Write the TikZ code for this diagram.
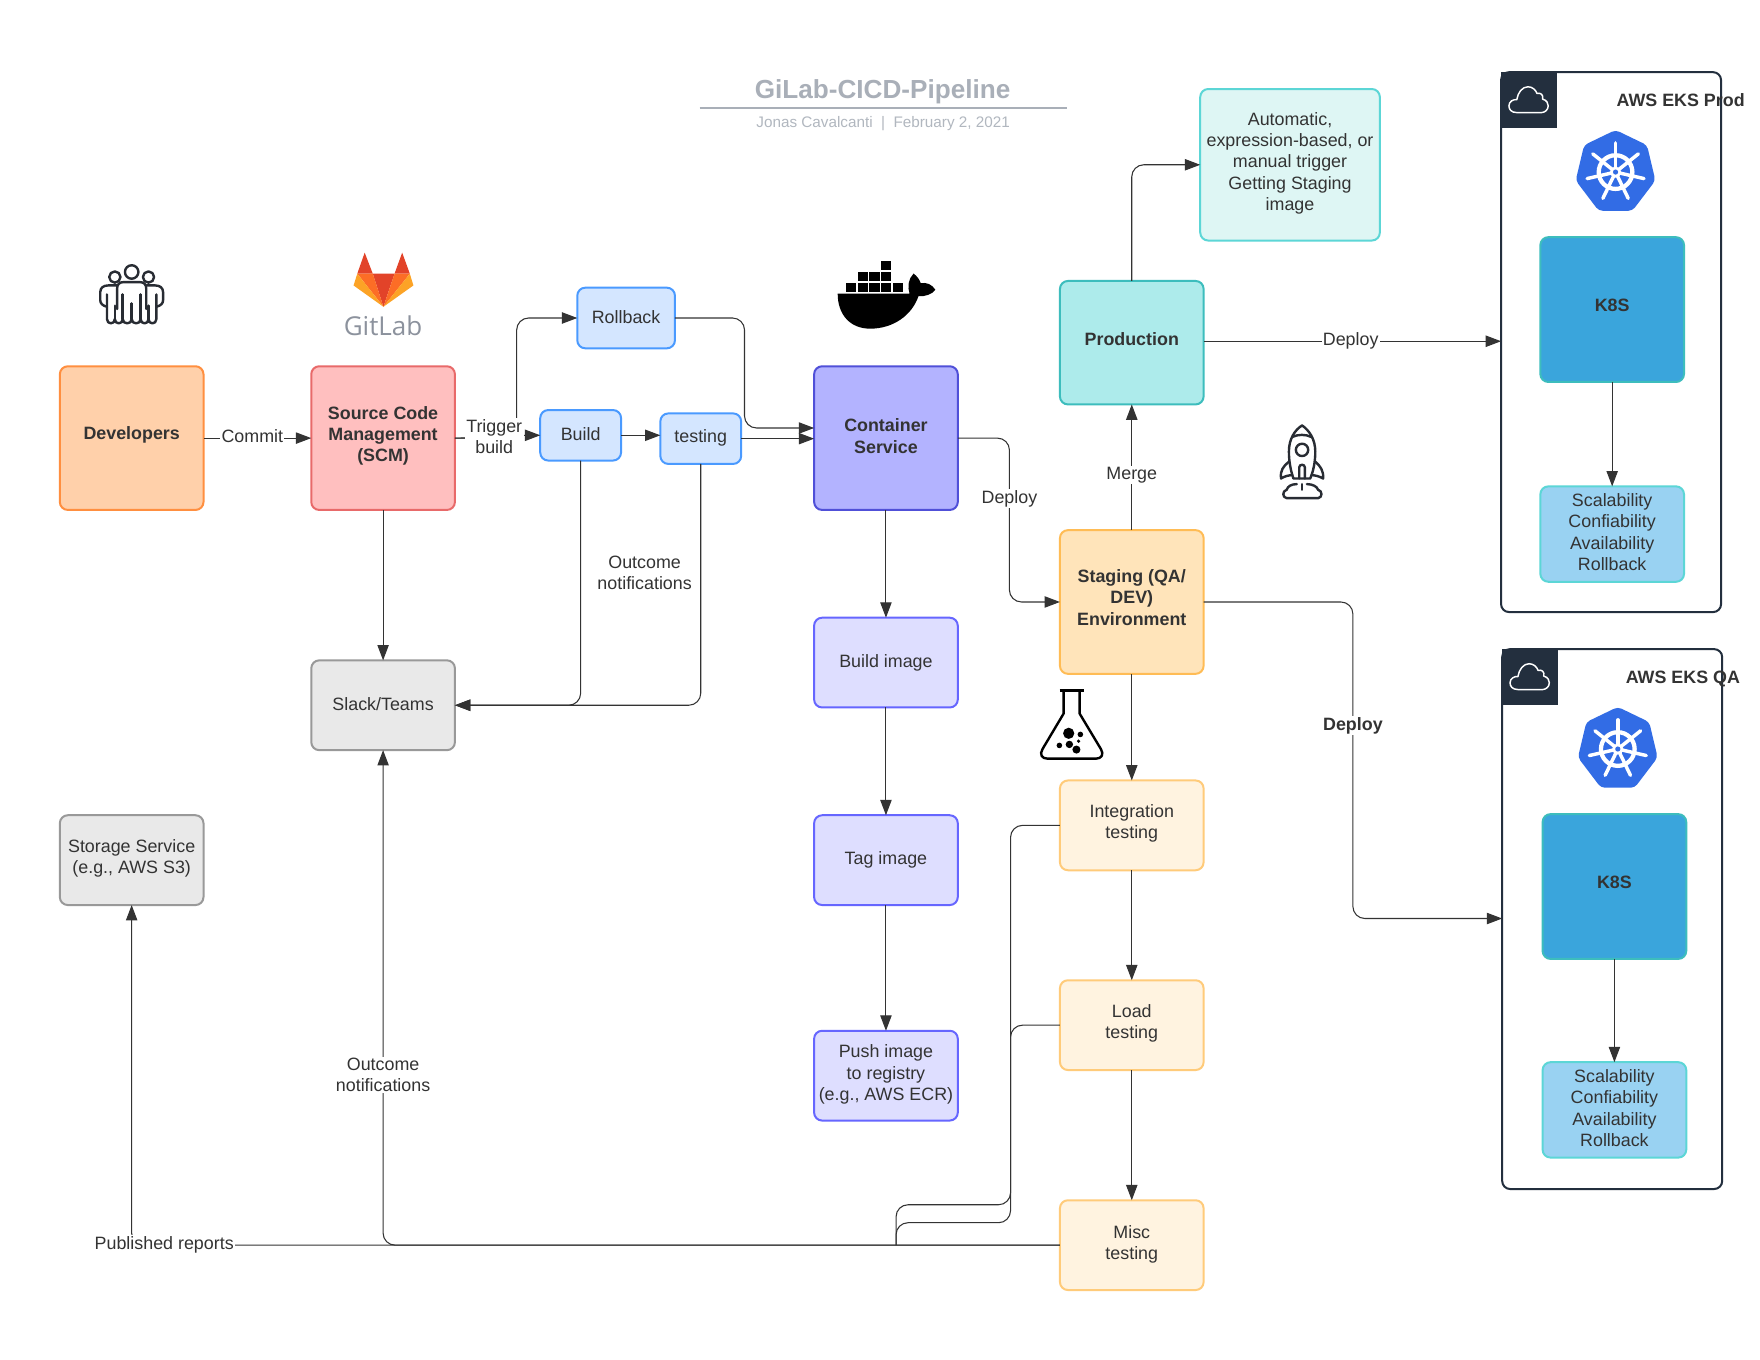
\documentclass[tikz,border=0pt]{standalone}
\usepackage{fontspec}
\setmainfont{Liberation Sans}
\newfontfamily\glfont{Open Sans}
\usetikzlibrary{arrows.meta,calc}
\definecolor{ink}{HTML}{333333}
\definecolor{dark}{HTML}{232F3E}
\definecolor{icon}{HTML}{282C33}
\definecolor{kblue}{HTML}{326CE5}
\definecolor{titlegray}{HTML}{A9AFB8}
\newcommand{\uu}{0.84184pt}
\newcommand{\bx}[8]{%
  \node[#1,minimum width={(#5-#3)*\uu},minimum height={(#6-#4)*\uu}] (#2) at ({(#3+#5)/2},{(#4+#6)/2})
    {\raisebox{#7pt}[\height][\depth]{\begin{tabular}{@{}c@{}}#8\end{tabular}}};}
\tikzset{
  box/.style={draw,rounded corners=6pt,line width=1.5pt,inner sep=0pt,outer sep=0pt,text=ink,font=\fontsize{13.4}{16}\selectfont},
  boldbox/.style={box,font=\fontsize{13.4}{16}\selectfont\bfseries},
  cdev/.style={boldbox,fill={rgb,255:red,255;green,208;blue,170},draw={rgb,255:red,255;green,143;blue,64}},
  cscm/.style={boldbox,fill={rgb,255:red,255;green,191;blue,191},draw={rgb,255:red,232;green,106;blue,106}},
  csmall/.style={box,fill={rgb,255:red,212;green,230;blue,255},draw={rgb,255:red,74;green,154;blue,255}},
  ccont/.style={boldbox,fill={rgb,255:red,179;green,179;blue,255},draw={rgb,255:red,80;green,80;blue,216}},
  cimg/.style={box,fill={rgb,255:red,222;green,222;blue,255},draw={rgb,255:red,102;green,102;blue,255}},
  cgray/.style={box,fill={rgb,255:red,233;green,233;blue,233},draw={rgb,255:red,153;green,153;blue,153}},
  cprod/.style={boldbox,fill={rgb,255:red,173;green,235;blue,235},draw={rgb,255:red,61;green,189;blue,189}},
  cauto/.style={box,fill={rgb,255:red,222;green,246;blue,244},draw={rgb,255:red,92;green,214;blue,214}},
  cstag/.style={boldbox,fill={rgb,255:red,255;green,228;blue,186},draw={rgb,255:red,255;green,188;blue,85}},
  ctest/.style={box,fill={rgb,255:red,255;green,243;blue,224},draw={rgb,255:red,255;green,203;blue,122}},
  ckube/.style={boldbox,fill={rgb,255:red,58;green,165;blue,220},draw={rgb,255:red,61;green,189;blue,189}},
  cscal/.style={box,fill={rgb,255:red,153;green,210;blue,242},draw={rgb,255:red,92;green,214;blue,214}},
  frame/.style={draw=dark,line width=1.5pt,rounded corners=6pt,inner sep=0pt,outer sep=0pt},
  lbl/.style={fill=white,inner sep=1pt,text=ink,align=center,font=\fontsize{13.4}{16}\selectfont},
  lblb/.style={lbl,font=\fontsize{13.4}{16}\selectfont\bfseries},
  conn/.style={draw=ink,line width=0.8pt,rounded corners=9pt,-{Triangle[length=11.5pt,width=8.5pt]}},
  plainconn/.style={draw=ink,line width=0.8pt,rounded corners=9pt},
  ico/.style={draw=icon,line width=1.8pt,line join=round,line cap=round},
  kube/.pic={
    \fill[kblue,rounded corners=3pt] (0,-37.5) -- (28,-24) -- (35.5,7.5) -- (15,34.5) -- (-15,34.5) -- (-35.5,7.5) -- (-28,-24) -- cycle;
    \draw[white,line width=3.2pt] (0,0) circle (15);
    \foreach \a in {90,141.4,192.9,244.3,295.7,347.1,38.6}
      \draw[white,line width=2.6pt,line cap=round] (0,0) -- ({\a}:-26);
    \fill[white] (0,0) circle (5);
    \fill[kblue] (0,0) circle (2.3);
  },
  cloudhead/.pic={
    \fill[dark] (0,0) rectangle (49.5,49.5);
    \draw[white,line width=1.1pt,line join=round] (14,36) .. controls (9,36) and (7,33) .. (7,30) .. controls (7,26) and (11,24) .. (14,24.5) .. controls (15,18) and (19,13) .. (24,13) .. controls (28,13) and (31,16) .. (32,19) .. controls (35,18) and (38,20) .. (37,24) .. controls (41,25) and (42,28) .. (42,30) .. controls (42,33.5) and (39,36) .. (36,36) -- cycle;
  }
}
\begin{document}
\begin{tikzpicture}[x=\uu,y=-\uu]
\useasboundingbox (-0.3,-0.3) rectangle (1567.7,1211.3);
\fill[white] (-0.3,-0.3) rectangle (1567.7,1211.3);

% title
\node[text=titlegray,font=\fontsize{19.6}{22}\selectfont\bfseries] (title) at (786,81) {GiLab-CICD-Pipeline};
\node[text=titlegray!90,font=\fontsize{11.45}{14}\selectfont] (subtitle) at (786.5,110) {Jonas Cavalcanti\ \ |\ \ February 2, 2021};
\coordinate (ruleL) at (623,96);
\coordinate (ruleR) at (950.5,96);
\draw[titlegray,line width=1.5pt] (ruleL) -- (ruleR);

% AWS frames
\bx{frame}{eksprod}{1337}{64}{1533}{545}{0}{}
\bx{frame}{eksqa}{1338}{578}{1534}{1059}{0}{}
\pic at (1337,64) {cloudhead};
\pic at (1338,578) {cloudhead};
\node[text=ink,font=\fontsize{13.4}{16}\selectfont\bfseries] (prodtitle) at (1497,89) {AWS EKS Prod};
\node[text=ink,font=\fontsize{13.4}{16}\selectfont\bfseries] (qatitle) at (1499,604.5) {AWS EKS QA};
\pic at (1439,153) {kube};
\pic at (1441,667) {kube};

% boxes
\bx{cdev}{dev}{53}{326}{181}{454}{2.2}{Developers}
\bx{cscm}{scm}{277}{326}{405}{454}{1.3}{Source Code\\Management\\(SCM)}
\bx{csmall}{rollback}{514}{256}{601}{310}{-0.7}{Rollback}
\bx{csmall}{build}{481}{365}{553}{410}{-0.7}{Build}
\bx{csmall}{testing}{588}{368}{660}{413}{0}{testing}
\bx{ccont}{container}{725}{326}{853}{454}{-0.2}{Container\\Service}
\bx{cimg}{buildimg}{725}{550}{853}{630}{-0.2}{Build image}
\bx{cimg}{tagimg}{725}{726}{853}{806}{-0.2}{Tag image}
\bx{cimg}{pushimg}{725}{918}{853}{998}{0.5}{Push image\\to registry\\(e.g., AWS ECR)}
\bx{cgray}{slack}{277}{588}{405}{668}{-0.7}{Slack/Teams}
\bx{cgray}{storage}{53}{726}{181}{806}{1.3}{Storage Service\\(e.g., AWS S3)}
\bx{cprod}{prod}{944}{250}{1072}{360}{0.8}{Production}
\bx{cauto}{auto}{1069}{79}{1229}{214}{1}{Automatic,\\expression-based, or\\manual trigger\\Getting Staging\\image}
\bx{cstag}{staging}{944}{472}{1072}{600}{1.8}{Staging (QA/\\DEV)\\Environment}
\bx{ctest}{integ}{944}{695}{1072}{775}{1}{Integration\\testing}
\bx{ctest}{load}{944}{873}{1072}{953}{1.3}{Load\\testing}
\bx{ctest}{misc}{944}{1069}{1072}{1149}{0.3}{Misc\\testing}
\bx{ckube}{kubeP}{1372}{211}{1500}{340}{1.8}{K8S}
\bx{cscal}{scalP}{1372}{433}{1500}{518}{-0.2}{Scalability\\Confiability\\Availability\\Rollback}
\bx{ckube}{kubeQ}{1374}{725}{1502}{854}{1.8}{K8S}
\bx{cscal}{scalQ}{1374}{946}{1502}{1031}{-0.2}{Scalability\\Confiability\\Availability\\Rollback}

% helper coordinates
\coordinate (trigMid) at (440,389.6);
\coordinate (trigUp) at (460,330);
\coordinate (rollBend) at (663,330);
\coordinate (contIn) at (725,381);
\coordinate (deployBend) at (899,460);
\coordinate (qaBend) at (1205,818);
\coordinate (prodOut) at (1072,303.7);
\coordinate (busBendI) at (900,1000);
\coordinate (jn) at (798,1109);
\coordinate (jnI) at (798,1073);
\coordinate (jnL) at (798,1089);

% connectors
\draw[conn] (dev.east) -- (scm.west);
\draw[conn] (scm.east) -- (trigMid) -- (trigMid |- build.west) -- (build.west);
\draw[conn] (scm.east) -| (trigUp) |- (rollback.west);
\draw[conn] (build.east |- 0,387.5) -- (testing.west |- 0,387.5);
\draw[conn] (testing.east) -- (testing.east -| container.west);
\draw[conn] (rollback.east) -| (rollBend) |- (contIn);
\draw[conn] (container.south) -- (buildimg.north);
\draw[conn] (buildimg.south) -- (tagimg.north);
\draw[conn] (tagimg.south) -- (pushimg.north);
\draw[conn] (container.east) -| (deployBend) |- (staging.west);
\draw[conn] (scm.south) -- (slack.north);
\draw[conn] (build.south) |- (slack.east);
\draw[conn] (testing.south) |- (slack.east);
\draw[conn] (staging.north) -- (prod.south);
\draw[conn] (prod.north) |- (auto.west);
\draw[conn] (prodOut) -- (prodOut -| eksprod.west);
\draw[conn] (staging.east) -| (qaBend) -- (qaBend -| eksqa.west);
\draw[conn] (kubeP.south) -- (scalP.north);
\draw[conn] (kubeQ.south) -- (scalQ.north);
\draw[conn] (staging.south) -- (integ.north);
\draw[conn] (integ.south) -- (load.north);
\draw[conn] (load.south) -- (misc.north);
\draw[conn] (misc.west) -| (storage.south);
\draw[conn] (misc.west) -| (slack.south);
\draw[plainconn] (integ.west) -| (busBendI) |- (jnI) -- (jn);
\draw[plainconn] (load.west) -| (busBendI) |- (jnL) -- (jn);

% labels
\node[lbl] (lcommit) at (224.5,388) {Commit};
\node[lbl] (ltrigger) at (440,388.5) {Trigger\\build};
\node[lbl] (loutA) at (574,510) {Outcome\\notifications};
\node[lbl] (ldeployA) at (899,444) {Deploy};
\node[lbl] (lmerge) at (1008,423) {Merge};
\node[lbl] (ldeployB) at (1203,303.5) {Deploy};
\node[lblb] (ldeployC) at (1205,646) {Deploy};
\node[lbl] (loutB) at (341,957.5) {Outcome\\notifications};
\node[lbl] (lpub) at (146,1109) {Published reports};

% people icon
\draw[ico] (117,242) circle (6);
\draw[ico] (102,246.5) circle (5);
\draw[ico] (132,246.5) circle (5);
\draw[ico] (95,273) .. controls (91,272) and (89,270) .. (89,267) -- (89,260) .. controls (89,256) and (92,254) .. (96,254) -- (104,254);
\draw[ico] (139,273) .. controls (143,272) and (145,270) .. (145,267) -- (145,260) .. controls (145,256) and (142,254) .. (138,254) -- (130,254);
\draw[ico] (104,275) -- (104,257) .. controls (104,253) and (106,251) .. (110,251) -- (124,251) .. controls (128,251) and (130,253) .. (130,257) -- (130,275);
\draw[ico] (95,262) -- (95,284) .. controls (95,289) and (102,289) .. (102,284) .. controls (102,289) and (109,289) .. (109,284) .. controls (109,289) and (117,289) .. (117,284) .. controls (117,289) and (125,289) .. (125,284) .. controls (125,289) and (132,289) .. (132,284) .. controls (132,289) and (139,289) .. (139,284) -- (139,262);
\draw[ico] (102,272) -- (102,284);
\draw[ico] (109,262) -- (109,284);
\draw[ico] (117,270) -- (117,284);
\draw[ico] (125,262) -- (125,284);
\draw[ico] (132,272) -- (132,284);

% gitlab logo
\fill[fill={rgb,255:red,226;green,67;blue,41}] (331.8,243.5) -- (351.2,243.5) -- (341.3,273) -- cycle;
\fill[fill={rgb,255:red,226;green,67;blue,41}] (324.6,224.8) -- (331.8,243.5) -- (318,243.5) -- cycle;
\fill[fill={rgb,255:red,226;green,67;blue,41}] (358,224.8) -- (351.2,243.5) -- (364.8,243.5) -- cycle;
\fill[fill={rgb,255:red,252;green,109;blue,38}] (318,243.5) -- (331.8,243.5) -- (341.3,273) -- cycle;
\fill[fill={rgb,255:red,252;green,109;blue,38}] (364.8,243.5) -- (351.2,243.5) -- (341.3,273) -- cycle;
\fill[fill={rgb,255:red,252;green,163;blue,38}] (318,243.5) -- (314.7,254) -- (341.3,273) -- cycle;
\fill[fill={rgb,255:red,252;green,163;blue,38}] (364.8,243.5) -- (368,254) -- (341.3,273) -- cycle;
\node[text={rgb,255:red,140;green,146;blue,157},font=\fontsize{19.5}{24}\glfont] (gitlabtext) at (341,290) {GitLab};

% docker logo
\fill[black] (746,261.3) -- (810,261.3) .. controls (808,255) and (809,248) .. (813.6,243.4) .. controls (817,246) and (819,249) .. (820,252) .. controls (825,251) and (830,253) .. (833,257.8) .. controls (830,262) and (824,264) .. (818,263.5) .. controls (812,281) and (795,292.5) .. (775,292.5) .. controls (757,292.5) and (746,280) .. (746,261.3) -- cycle;
\foreach \cx in {753,763.8,774.3,784.6,795.3}
  \fill[black] (\cx,251.8) rectangle ++(9,8.4);
\foreach \cx in {763.8,774.3,784.6}
  \fill[black] (\cx,241.8) rectangle ++(9,8.4);
\fill[black] (784.6,232.2) rectangle ++(9,8.4);

% rocket
\draw[ico] (1159.7,378.7) .. controls (1153,383) and (1148,391) .. (1148,402) .. controls (1148,412) and (1150,420) .. (1152,426) -- (1167,426) .. controls (1169.5,420) and (1171.5,412) .. (1171.5,402) .. controls (1171.5,391) and (1166,383) .. cycle;
\draw[ico] (1151,389) .. controls (1156,386.5) and (1163,386.5) .. (1168,389);
\draw[ico] (1159.7,400.5) circle (5.5);
\draw[ico] (1148,411) .. controls (1143,415) and (1140,419) .. (1141,426) .. controls (1144,424) and (1148,423) .. (1151,423);
\draw[ico] (1171.5,411) .. controls (1176,415) and (1179,419) .. (1178.5,426) .. controls (1175,424) and (1171,423) .. (1168,423);
\draw[ico] (1157.2,426) -- (1157.2,416) .. controls (1157.2,413) and (1162.2,413) .. (1162.2,416) -- (1162.2,426);
\draw[ico] (1155,431) .. controls (1150,431) and (1147,433) .. (1146,436) .. controls (1142,437) and (1142,443) .. (1146,443.5) -- (1174,443.5) .. controls (1178,443) and (1178,437) .. (1174,436) .. controls (1173,433) and (1169,431) .. (1164,431);
\draw[ico] (1159.7,431) -- (1159.7,436);

% flask
\draw[black,line width=1.8pt,line join=round] (943.7,614.7) -- (965,614.7);
\draw[black,line width=1.8pt,line join=round] (947.3,614.7) -- (947.3,635.4) -- (928.5,667) .. controls (925.5,672) and (928,675.6) .. (933,675.6) -- (976,675.6) .. controls (981,675.6) and (983.5,672) .. (980.5,667) -- (961.5,635.4) -- (961.5,614.7);
\fill[black] (951.8,653) circle (5);
\fill[black] (962.2,654) circle (2.5);
\fill[black] (943.5,663.8) circle (2.5);
\fill[black] (952.4,662.9) circle (3.3);
\fill[black] (960.6,660) circle (1.6);
\fill[black] (958.7,667.5) circle (3.6);
\end{tikzpicture}
\end{document}
